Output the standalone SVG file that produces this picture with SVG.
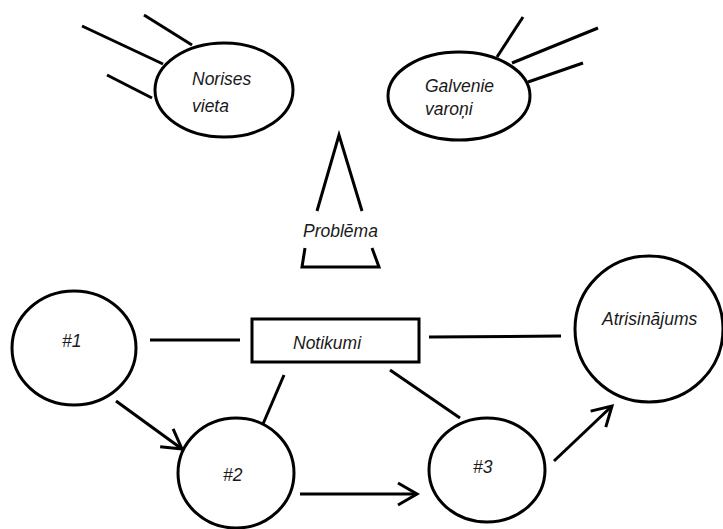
<svg xmlns="http://www.w3.org/2000/svg" width="723" height="529" viewBox="0 0 723 529">
<style>
.s{fill:none;stroke:#000;stroke-width:3}
.n{fill:#fff;stroke:#000;stroke-width:3}
.t{font-family:"Liberation Sans",Arial,sans-serif;font-style:italic;font-size:17.5px;fill:#1a1a1a}
</style>
<defs>
<marker id="arr" markerUnits="userSpaceOnUse" markerWidth="30" markerHeight="30" viewBox="-25 -15 30 30" refX="0" refY="0" orient="auto">
<path d="M-19,-11 L0,0 L-19,11" fill="none" stroke="#000" stroke-width="3" stroke-linejoin="miter"/>
</marker>
</defs>
<rect width="723" height="529" fill="#fff"/>
<g id="connectors">
<line class="s" x1="82" y1="26" x2="163" y2="64"/>
<line class="s" x1="144" y1="15" x2="192" y2="45"/>
<line class="s" x1="107" y1="75" x2="152" y2="98"/>
<line class="s" x1="523" y1="17" x2="497" y2="57"/>
<line class="s" x1="598" y1="28" x2="512" y2="63"/>
<line class="s" x1="583" y1="63" x2="528" y2="82"/>
<line class="s" x1="150" y1="340" x2="240" y2="340"/>
<line class="s" x1="429" y1="337" x2="561" y2="336"/>
<line class="s" x1="284" y1="375" x2="263" y2="424"/>
<line class="s" x1="390" y1="370" x2="460" y2="418"/>
<line class="s" x1="116" y1="401" x2="182" y2="449" marker-end="url(#arr)"/>
<line class="s" x1="300" y1="494" x2="417" y2="494" marker-end="url(#arr)"/>
<line class="s" x1="554" y1="461" x2="612" y2="406" marker-end="url(#arr)"/>
</g>
<g id="norises-vieta">
<ellipse class="n" cx="224" cy="90" rx="69" ry="47"/>
<text class="t" x="192" y="85">Norises</text>
<text class="t" x="192" y="112">vieta</text>
</g>
<g id="galvenie-varoni">
<ellipse class="n" cx="459" cy="96" rx="71" ry="44"/>
<text class="t" x="425" y="92">Galvenie</text>
<text class="t" x="425" y="115">varoņi</text>
</g>
<g id="problema">
<polyline class="s" points="317,211 339,135 362,211"/>
<polyline class="s" points="305,248 302,267 379,267 372,248"/>
<text class="t" x="303" y="237">Problēma</text>
</g>
<g id="n1">
<ellipse class="n" cx="74" cy="348" rx="62" ry="57"/>
<text class="t" x="62" y="347">#1</text>
</g>
<g id="notikumi">
<rect class="n" x="252" y="319" width="167" height="43"/>
<text class="t" x="293" y="349">Notikumi</text>
</g>
<g id="atrisinajums">
<ellipse class="n" cx="649" cy="329" rx="74" ry="73"/>
<text class="t" x="602" y="325">Atrisinājums</text>
</g>
<g id="n2">
<ellipse class="n" cx="236" cy="473" rx="58" ry="55"/>
<text class="t" x="223" y="481">#2</text>
</g>
<g id="n3">
<ellipse class="n" cx="487" cy="470" rx="58" ry="52"/>
<text class="t" x="473" y="473">#3</text>
</g>
</svg>
